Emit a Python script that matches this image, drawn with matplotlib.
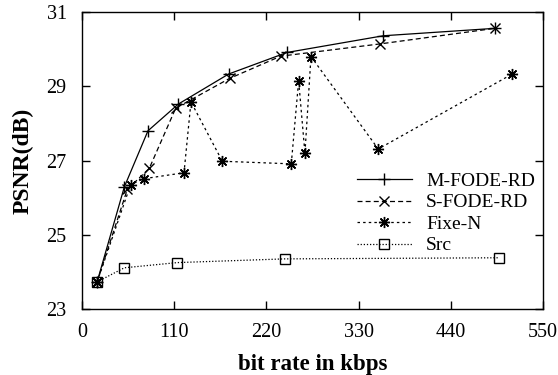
import matplotlib.pyplot as plt

# bit rate (kbps) and PSNR (dB)
m_rate = [18, 50.5, 78.7, 114.9, 175, 244.6, 359.5, 492.7]
m_psnr = [23.73, 26.29, 27.8, 28.52, 29.33, 29.91, 30.36, 30.56]

s_rate = [18, 54, 80.3, 111.8, 176, 237, 355.5, 492.7]
s_psnr = [23.73, 26.22, 26.79, 28.41, 29.21, 29.81, 30.14, 30.56]

f_rate = [18, 58, 74, 121.7, 130, 167.4, 249.7, 258.5, 266, 273.2, 353.5, 513.4]
f_psnr = [23.73, 26.35, 26.51, 26.67, 28.58, 26.98, 26.91, 29.15, 27.19, 29.8, 27.31, 29.33]

src_rate = [18, 50.5, 113.7, 241.8, 497.8]
src_psnr = [23.73, 24.11, 24.25, 24.35, 24.38]

plt.rcParams['font.family'] = ['Liberation Serif', 'DejaVu Serif']
plt.rcParams['font.size'] = 14

fig = plt.figure(figsize=(5.58, 3.75), dpi=100)
ax = fig.add_axes([0.147, 0.176, 0.826, 0.792])

lw = 0.9
ax.plot(m_rate, m_psnr, color='black', lw=lw, linestyle='-',
        marker='+', markersize=8, markeredgewidth=1.0, label='M-FODE-RD')
ax.plot(s_rate, s_psnr, color='black', lw=lw, linestyle=(0, (4, 2.5)),
        marker='x', markersize=7, markeredgewidth=1.0, label='S-FODE-RD')
ax.plot(f_rate, f_psnr, color='black', lw=lw, linestyle=(0, (2, 2.5)),
        marker=(8, 2, 0), markersize=8, markeredgewidth=1.0, label='Fixe-N')
ax.plot(src_rate, src_psnr, color='black', lw=lw, linestyle=(0, (1, 1.5)),
        marker='s', markersize=7, markerfacecolor='none', markeredgewidth=1.0,
        label='Src')

ax.set_xlim(0, 550)
ax.set_ylim(23, 31)
ax.set_xticks([0, 110, 220, 330, 440, 550])
ax.set_yticks([23, 25, 27, 29, 31])
ax.tick_params(direction='in', top=True, right=True, length=6, width=1, labelsize=14.5)
ax.tick_params(axis='y', pad=11)
ax.tick_params(axis='x', pad=10)
for sp in ax.spines.values():
    sp.set_linewidth(1.0)

ax.set_xlabel('bit rate in kbps', fontweight='bold', fontsize=16.5, labelpad=9)
ax.set_ylabel('PSNR(dB)', fontweight='bold', fontsize=17, labelpad=9)

ax.legend(loc='upper left', bbox_to_anchor=(0.597, 0.46), frameon=False,
          fontsize=14, handlelength=2.8, handletextpad=0.75, labelspacing=0.2,
          borderpad=0, borderaxespad=0)

fig.savefig('out.png', dpi=100)
